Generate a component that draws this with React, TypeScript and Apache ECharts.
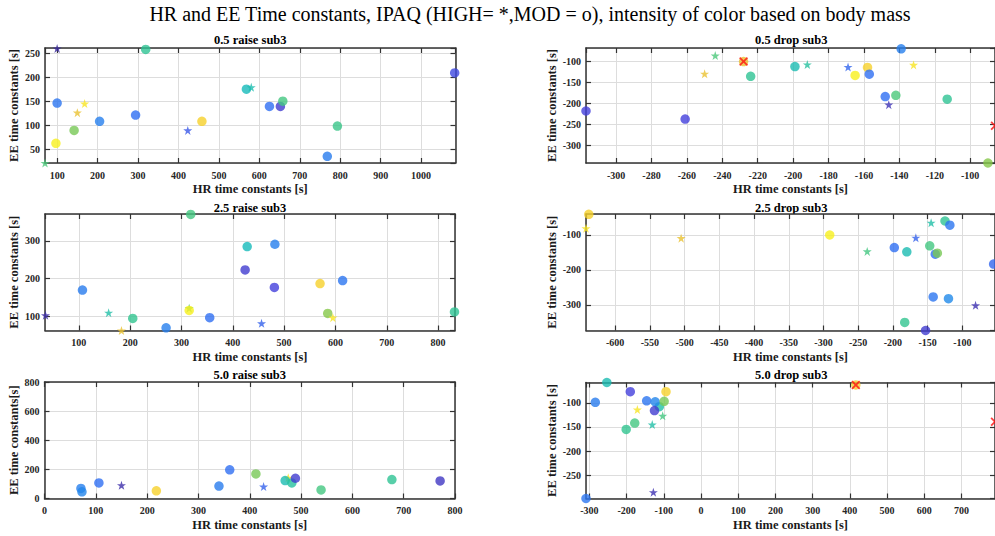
import React, { useEffect, useRef } from 'react';
import * as echarts from 'echarts';

const MAIN_TITLE = 'HR and EE Time constants, IPAQ (HIGH= *,MOD = o), intensity of color based on body mass';
const X_NAME = 'HR time constants [s]';
const Y_NAME = 'EE time constants [s]';
const Y_NAME_50R = 'EE time constants[s]';

// ---- 0.5 raise sub3 ----
const r05HR = [100, 319, 1083, 100, 150, 168, 205, 294, 142, 97, 423, 458, 568, 580, 625, 652, 658, 793, 768, 70];
const r05EE = [260, 258, 209, 146, 126, 145, 108, 121, 89, 62, 89, 108, 175, 179, 139, 139, 150, 98, 35, 21];
const r05Mass = [0.0, 0.55, 0.12, 0.22, 0.86, 0.97, 0.25, 0.2, 0.68, 1.0, 0.15, 0.92, 0.45, 0.48, 0.2, 0.08, 0.6, 0.58, 0.24, 0.62];
const r05Ipaq = ['H', 'M', 'M', 'M', 'H', 'H', 'M', 'M', 'M', 'M', 'H', 'M', 'M', 'H', 'M', 'M', 'M', 'M', 'M', 'H'];
const r05OutHR: number[] = [];
const r05OutEE: number[] = [];

// ---- 0.5 drop sub3 ----
const d05HR = [-317, -261, -250, -244, -228, -224, -199, -192, -169, -165, -158, -157, -139, -132, -148, -142, -146, -113, -90];
const d05EE = [-218, -237, -130, -87, -101, -136, -113, -108, -114, -134, -115, -131, -71, -109, -184, -181, -203, -190, -341];
const d05Mass = [0.1, 0.1, 0.86, 0.62, 0.86, 0.55, 0.47, 0.52, 0.18, 1.0, 0.92, 0.2, 0.25, 0.97, 0.2, 0.62, 0.04, 0.55, 0.7];
const d05Ipaq = ['M', 'M', 'H', 'H', 'M', 'M', 'M', 'H', 'H', 'M', 'M', 'M', 'M', 'H', 'M', 'M', 'H', 'M', 'M'];
const d05OutHR = [-228, -86];
const d05OutEE = [-101, -253];

// ---- 2.5 raise sub3 ----
const r25HR = [35, 107, 158, 183, 205, 270, 318, 315, 315, 355, 428, 482, 424, 481, 456, 570, 614, 585, 595, 832];
const r25EE = [103, 170, 110, 63, 95, 70, 370, 122, 116, 97, 285, 291, 223, 177, 82, 187, 195, 108, 97, 112];
const r25Mass = [0.02, 0.24, 0.5, 0.86, 0.56, 0.25, 0.6, 0.64, 1.0, 0.2, 0.45, 0.25, 0.08, 0.1, 0.17, 0.92, 0.22, 0.7, 0.97, 0.55];
const r25Ipaq = ['H', 'M', 'H', 'H', 'M', 'M', 'M', 'H', 'M', 'M', 'M', 'M', 'M', 'M', 'H', 'M', 'M', 'M', 'H', 'M'];
const r25OutHR: number[] = [];
const r25OutEE: number[] = [];

// ---- 2.5 drop sub3 ----
const d25HR = [-638, -642, -505, -291, -237, -198, -180, -167, -145, -125, -118, -147, -139, -136, -55, -142, -120, -81, -183, -153];
const d25EE = [-41, -81, -109, -100, -147, -136, -148, -108, -65, -60, -72, -131, -155, -152, -183, -277, -282, -301, -350, -373];
const d25Mass = [0.92, 0.97, 0.86, 1.0, 0.6, 0.2, 0.47, 0.17, 0.5, 0.55, 0.22, 0.6, 0.2, 0.68, 0.18, 0.22, 0.28, 0.03, 0.56, 0.08];
const d25Ipaq = ['M', 'H', 'H', 'M', 'H', 'M', 'M', 'H', 'H', 'M', 'M', 'M', 'M', 'M', 'M', 'M', 'M', 'H', 'M', 'M'];
const d25OutHR: number[] = [];
const d25OutEE: number[] = [];

// ---- 5.0 raise sub3 ----
const r50HR = [71, 73, 106, 150, 218, 340, 361, 412, 475, 469, 482, 489, 427, 539, 677, 771];
const r50EE = [69, 46, 107, 91, 53, 85, 197, 169, 142, 123, 107, 139, 82, 59, 130, 121];
const r50Mass = [0.25, 0.27, 0.2, 0.02, 0.92, 0.24, 0.2, 0.68, 0.97, 0.47, 0.52, 0.08, 0.17, 0.6, 0.55, 0.06];
const r50Ipaq = ['M', 'M', 'M', 'H', 'M', 'M', 'M', 'M', 'H', 'M', 'M', 'M', 'H', 'M', 'M', 'M'];
const r50OutHR: number[] = [];
const r50OutEE: number[] = [];

// ---- 5.0 drop sub3 ----
const d50HR = [-309, -284, -253, -190, -171, -178, -201, -146, -112, -123, -125, -99, -94, -131, -103, -128, 416];
const d50EE = [-298, -99, -58, -77, -114, -142, -155, -96, -108, -98, -116, -97, -77, -145, -127, -285, -63];
const d50Mass = [0.22, 0.24, 0.47, 0.1, 0.97, 0.6, 0.56, 0.22, 0.5, 0.27, 0.08, 0.68, 0.92, 0.5, 0.6, 0.03, 0.9];
const d50Ipaq = ['M', 'M', 'M', 'M', 'H', 'M', 'M', 'M', 'M', 'M', 'M', 'M', 'M', 'H', 'H', 'H', 'M'];
const d50OutHR = [416, 790];
const d50OutEE = [-63, -139];

// axis extents and tick steps [min, max, step]
const r05X = [70, 1085, 100], r05Y = [21, 261, 50];
const d05X = [-317, -86, 20], d05Y = [-341, -69, 50];
const r25X = [34, 833, 100], r25Y = [63, 371, 100];
const d25X = [-642, -53, 50], d25Y = [-373, -40, 100];
const r50X = [0, 800, 100], r50Y = [0, 800, 200];
const d50X = [-309, 790, 100], d50Y = [-298, -58, 50];

const PANELS = [
  { title: '0.5 raise sub3', hr: r05HR, ee: r05EE, mass: r05Mass, ipaq: r05Ipaq, oHR: r05OutHR, oEE: r05OutEE, x: r05X, y: r05Y, yName: Y_NAME },
  { title: '0.5 drop sub3', hr: d05HR, ee: d05EE, mass: d05Mass, ipaq: d05Ipaq, oHR: d05OutHR, oEE: d05OutEE, x: d05X, y: d05Y, yName: Y_NAME },
  { title: '2.5 raise sub3', hr: r25HR, ee: r25EE, mass: r25Mass, ipaq: r25Ipaq, oHR: r25OutHR, oEE: r25OutEE, x: r25X, y: r25Y, yName: Y_NAME },
  { title: '2.5 drop sub3', hr: d25HR, ee: d25EE, mass: d25Mass, ipaq: d25Ipaq, oHR: d25OutHR, oEE: d25OutEE, x: d25X, y: d25Y, yName: Y_NAME },
  { title: '5.0 raise sub3', hr: r50HR, ee: r50EE, mass: r50Mass, ipaq: r50Ipaq, oHR: r50OutHR, oEE: r50OutEE, x: r50X, y: r50Y, yName: Y_NAME_50R },
  { title: '5.0 drop sub3', hr: d50HR, ee: d50EE, mass: d50Mass, ipaq: d50Ipaq, oHR: d50OutHR, oEE: d50OutEE, x: d50X, y: d50Y, yName: Y_NAME },
];

// layout
const RECTS = [
  { l: 45, t: 48, w: 410.5, h: 115 },
  { l: 586, t: 48, w: 410.5, h: 115 },
  { l: 45, t: 214, w: 410, h: 116.5 },
  { l: 586, t: 214, w: 410.5, h: 116.5 },
  { l: 44.5, t: 382, w: 410.5, h: 116.5 },
  { l: 586, t: 382.5, w: 410.5, h: 116 },
];
const TITLE_Y = [40, 207.5, 374.5];
const MAIN_TITLE_X = 530;
const MAIN_TITLE_Y = 14;

const SERIF = 'Liberation Serif, Times New Roman, serif';
const AXIS_COLOR = '#333333';
const GRID_COLOR = '#dddddd';

const PARULA: [number, number[]][] = [
  [0.0, [59, 42, 158]],
  [0.1, [67, 64, 220]],
  [0.2, [47, 111, 242]],
  [0.3, [30, 144, 232]],
  [0.45, [22, 186, 186]],
  [0.55, [46, 195, 148]],
  [0.62, [76, 200, 122]],
  [0.7, [134, 200, 74]],
  [0.8, [200, 192, 48]],
  [0.88, [245, 194, 51]],
  [1.0, [247, 240, 30]],
];
function parula(t: number): string {
  const v = Math.max(0, Math.min(1, t));
  for (let i = 1; i < PARULA.length; i++) {
    const [t1, c1] = PARULA[i];
    const [t0, c0] = PARULA[i - 1];
    if (v <= t1) {
      const f = (v - t0) / (t1 - t0 || 1);
      const c = c0.map((a, k) => Math.round(a + (c1[k] - a) * f));
      return `rgb(${c[0]},${c[1]},${c[2]})`;
    }
  }
  return 'rgb(247,240,30)';
}

const STAR = 'path://M50,0 L61.8,35.3 L99,35.3 L69,57.5 L80.4,92.7 L50,71 L19.6,92.7 L31,57.5 L1,35.3 L38.2,35.3 Z';
const CROSS = 'path://M0,14 L14,0 L50,36 L86,0 L100,14 L64,50 L100,86 L86,100 L50,64 L14,100 L0,86 L36,50 Z';

function isMult(v: number, s: number) {
  return Math.abs(v / s - Math.round(v / s)) < 1e-9;
}
const plain = (v: number) => String(v);

function buildOption() {
  const grid: any[] = [];
  const xAxis: any[] = [];
  const yAxis: any[] = [];
  const series: any[] = [];
  const graphic: any[] = [
    {
      type: 'text', x: MAIN_TITLE_X, y: MAIN_TITLE_Y,
      style: {
        text: MAIN_TITLE, font: `normal 20px ${SERIF}`, fill: '#000',
        textAlign: 'center', textVerticalAlign: 'middle', align: 'center', verticalAlign: 'middle',
      },
    },
  ];

  PANELS.forEach((p, i) => {
    const r = RECTS[i];
    grid.push({ left: r.l, top: r.t, width: r.w, height: r.h, show: false });
    const rightCol = i % 2 === 1;
    const [xmin, xmax, xs] = p.x;
    const [ymin, ymax, ys] = p.y;
    const lineStyle = { color: AXIS_COLOR, width: 1.5 };
    const tick = { show: true, inside: true, length: 5, lineStyle: { color: AXIS_COLOR, width: 1.2 } };
    const lbl = { fontFamily: SERIF, fontWeight: 'bold', fontSize: 10, color: '#262626', formatter: plain };
    xAxis.push({
      type: 'value', gridIndex: i, position: 'bottom', min: xmin, max: xmax,
      minInterval: xs, maxInterval: xs, splitNumber: Math.round((xmax - xmin) / xs),
      axisLine: { show: true, onZero: false, lineStyle },
      axisTick: tick,
      axisLabel: { ...lbl, margin: 7, showMinLabel: isMult(xmin, xs), showMaxLabel: isMult(xmax, xs) },
      splitLine: { show: true, lineStyle: { color: GRID_COLOR, width: 1 } },
      name: X_NAME, nameLocation: 'middle', nameGap: 19.5,
      nameTextStyle: { fontFamily: SERIF, fontWeight: 'bold', fontSize: 12.5, color: '#1a1a1a' },
    });
    xAxis.push({
      type: 'value', gridIndex: i, position: 'top', min: xmin, max: xmax,
      minInterval: xs, maxInterval: xs, splitNumber: Math.round((xmax - xmin) / xs),
      axisLine: { show: true, onZero: false, lineStyle },
      axisTick: tick, axisLabel: { show: false }, splitLine: { show: false },
    });
    yAxis.push({
      type: 'value', gridIndex: i, position: 'left', min: ymin, max: ymax,
      minInterval: ys, maxInterval: ys, splitNumber: Math.round((ymax - ymin) / ys),
      axisLine: { show: true, onZero: false, lineStyle },
      axisTick: tick,
      axisLabel: { ...lbl, margin: 5, showMinLabel: isMult(ymin, ys), showMaxLabel: isMult(ymax, ys) },
      splitLine: { show: true, lineStyle: { color: GRID_COLOR, width: 1 } },
      name: p.yName, nameLocation: 'middle', nameGap: rightCol ? 26.5 : 24.5, nameRotate: 90,
      nameTextStyle: { fontFamily: SERIF, fontWeight: 'bold', fontSize: 12.5, color: '#1a1a1a' },
    });
    yAxis.push({
      type: 'value', gridIndex: i, position: 'right', min: ymin, max: ymax,
      minInterval: ys, maxInterval: ys, splitNumber: Math.round((ymax - ymin) / ys),
      axisLine: { show: true, onZero: false, lineStyle },
      axisTick: tick, axisLabel: { show: false }, splitLine: { show: false },
    });

    const data = p.hr.map((x, k) => {
      const star = p.ipaq[k] === 'H';
      return {
        value: [x, p.ee[k], p.mass[k]],
        symbol: star ? STAR : 'circle',
        symbolSize: star ? 9 : 9.5,
        itemStyle: { color: parula(p.mass[k]) },
      };
    });
    series.push({
      type: 'scatter', xAxisIndex: 2 * i, yAxisIndex: 2 * i, clip: false,
      data, z: 3, silent: true,
    });
    if (p.oHR.length) {
      series.push({
        type: 'scatter', xAxisIndex: 2 * i, yAxisIndex: 2 * i, clip: false,
        data: p.oHR.map((x, k) => [x, p.oEE[k]]),
        symbol: CROSS, symbolSize: 9, itemStyle: { color: '#ff1010' }, z: 4, silent: true,
      });
    }

    graphic.push({
      type: 'text',
      x: r.l + r.w / 2,
      y: TITLE_Y[Math.floor(i / 2)],
      style: {
        text: p.title,
        font: `bold 12.5px ${SERIF}`,
        fill: '#000',
        textAlign: 'center', textVerticalAlign: 'middle',
        align: 'center', verticalAlign: 'middle',
      },
    });
  });

  return {
    animation: false,
    backgroundColor: '#ffffff',
    graphic,
    grid, xAxis, yAxis, series,
  };
}

export default function App() {
  const ref = useRef<HTMLDivElement>(null);
  useEffect(() => {
    if (!ref.current) return;
    const chart = echarts.init(ref.current, undefined, { renderer: 'svg' });
    chart.setOption(buildOption() as any);
    return () => chart.dispose();
  }, []);
  return (
    <div
      ref={ref}
      style={{ position: 'fixed', left: 0, top: 0, width: 995, height: 536, background: '#fff' }}
    />
  );
}
